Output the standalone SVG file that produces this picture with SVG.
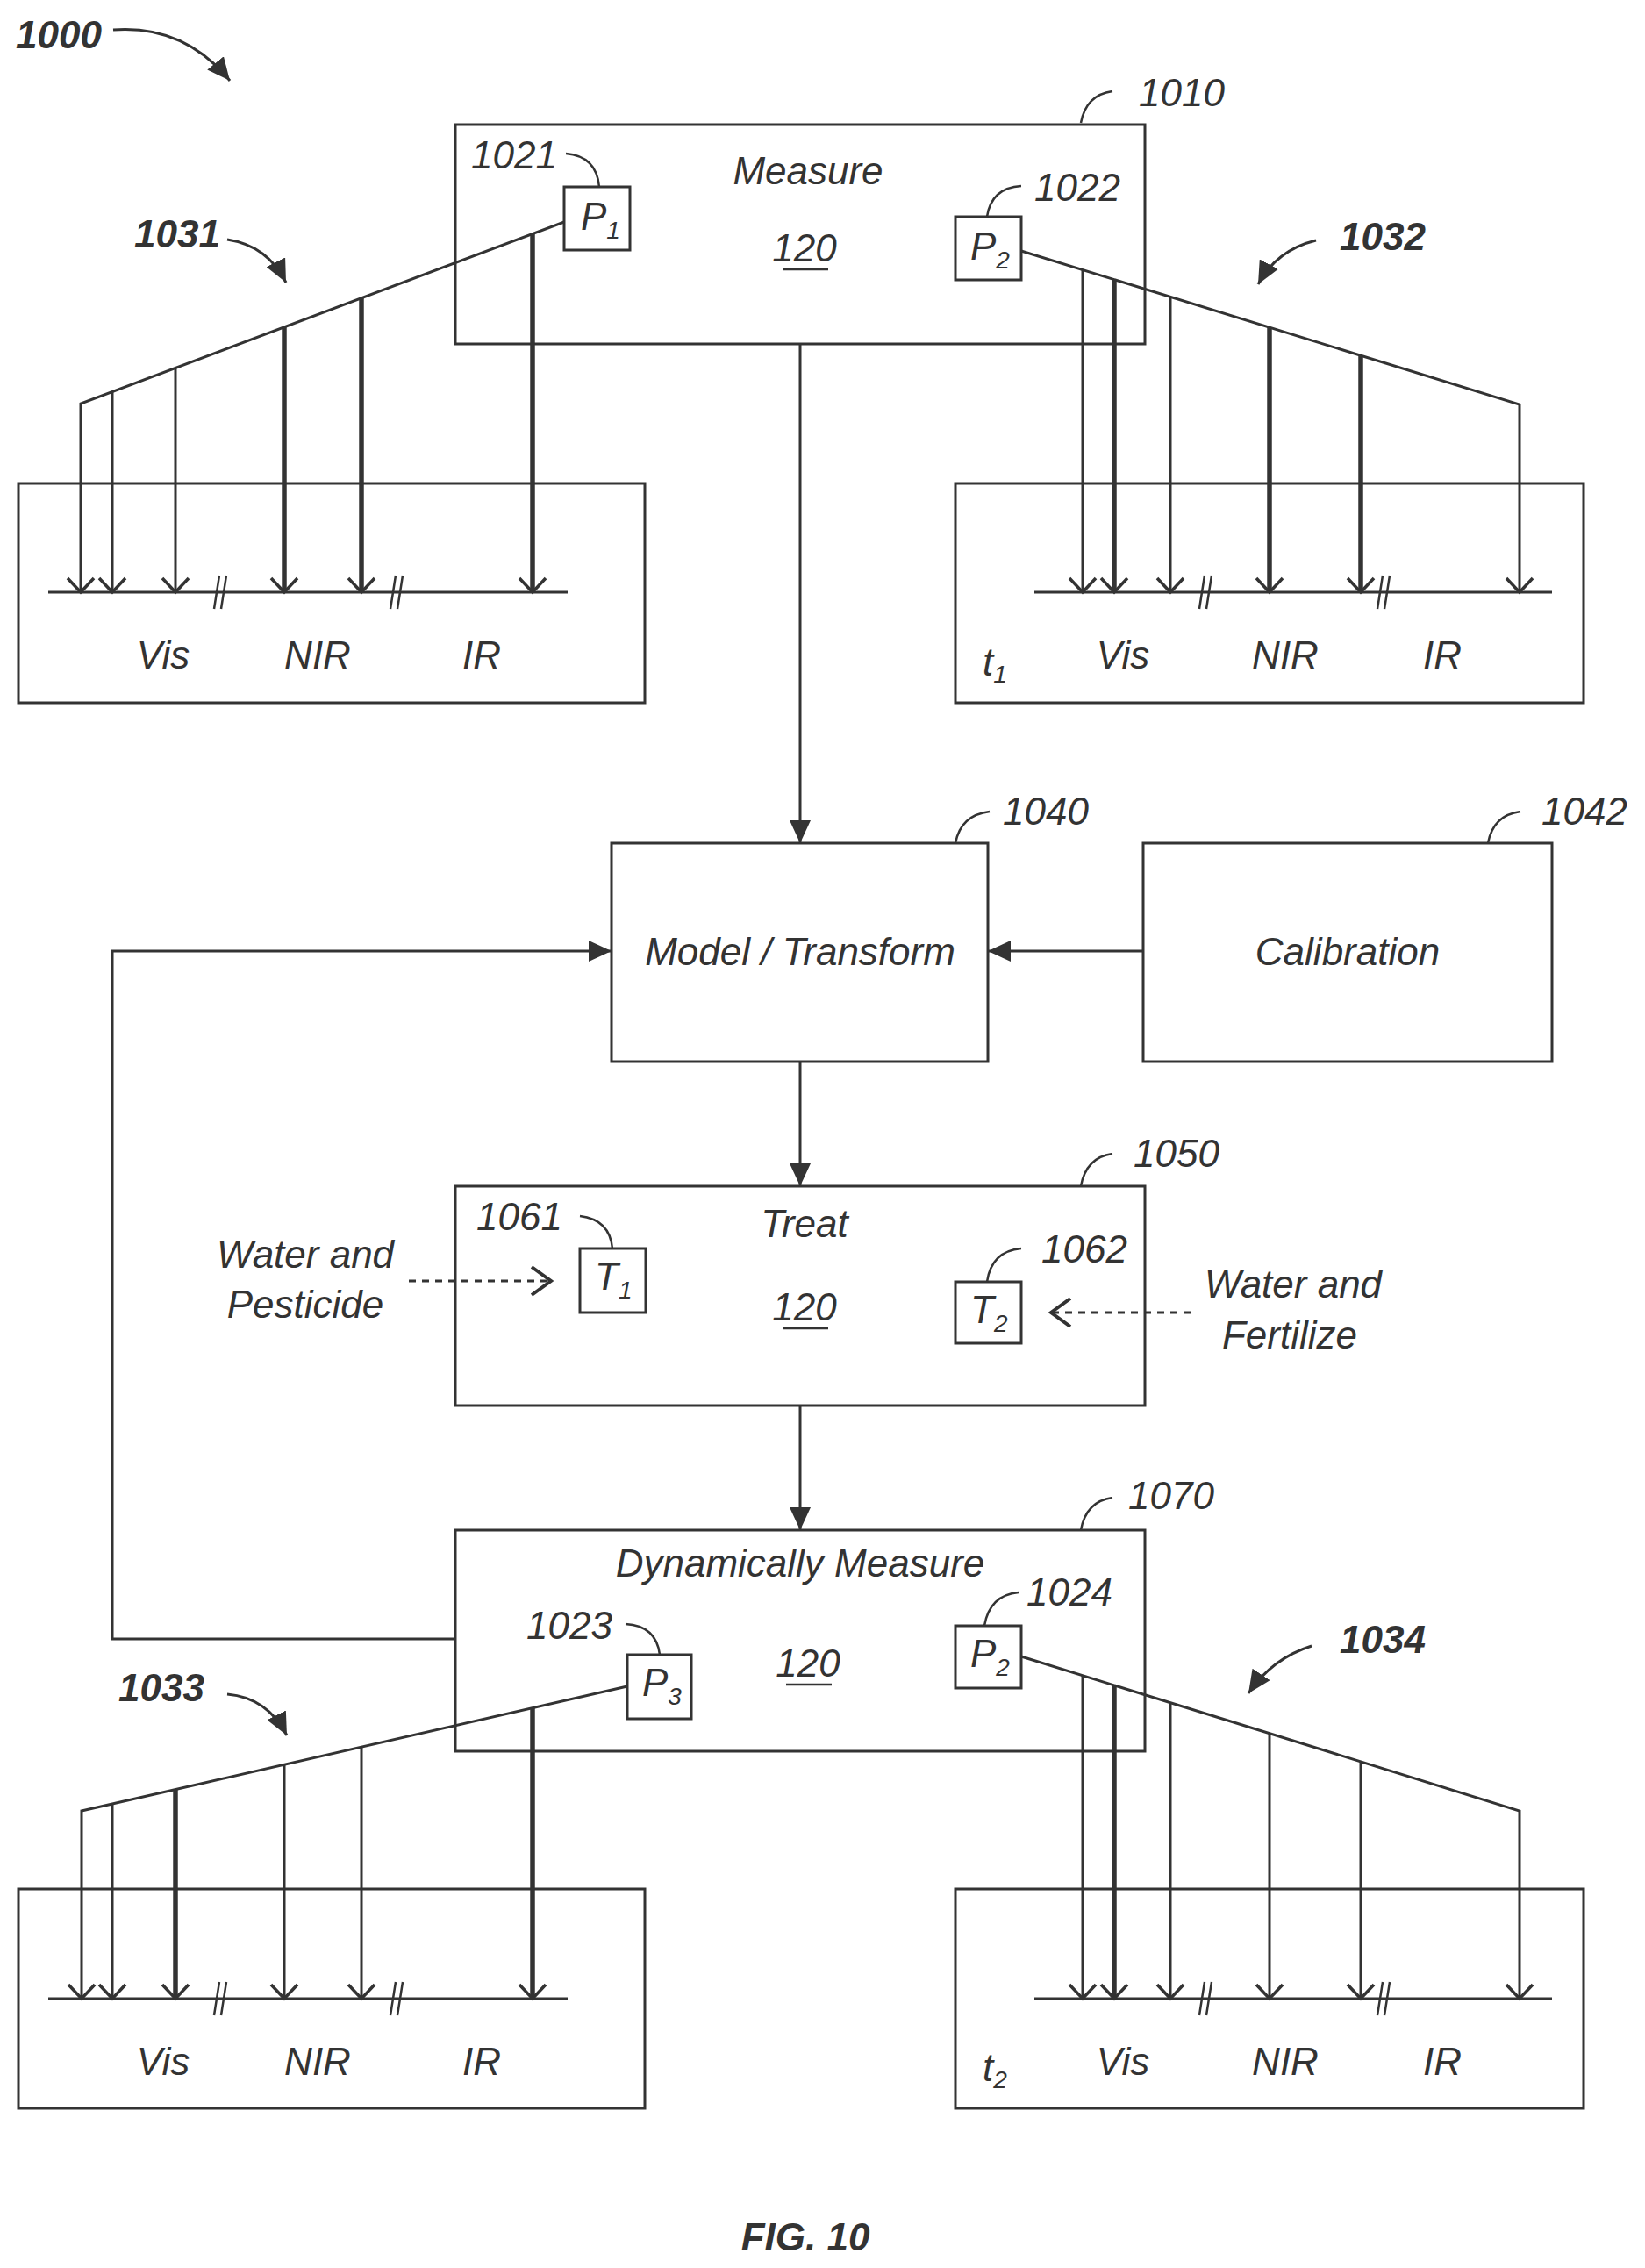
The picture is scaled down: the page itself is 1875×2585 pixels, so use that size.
<svg xmlns="http://www.w3.org/2000/svg" width="1875" height="2585" viewBox="0 0 1875 2585">
<style>
text{font-family:"Liberation Sans",Arial,sans-serif;font-style:italic;fill:#333;font-size:44px}
.b{font-weight:bold}
.m{text-anchor:middle}
.box{fill:none;stroke:#333;stroke-width:3}
.ln{fill:none;stroke:#333;stroke-width:3}
.tk{fill:none;stroke:#333;stroke-width:5.5}
.ld{fill:none;stroke:#333;stroke-width:2.5}
.ds{fill:none;stroke:#333;stroke-width:3;stroke-dasharray:8 7}
</style>
<defs>
<marker id="fa" markerUnits="userSpaceOnUse" markerWidth="30" markerHeight="24" refX="26" refY="12" orient="auto"><path d="M0,0 L26,12 L0,24 Z" fill="#333"/></marker>
<marker id="ca" markerUnits="userSpaceOnUse" markerWidth="30" markerHeight="40" refX="28" refY="20" orient="auto"><path d="M4,4 L26,20 L4,36" fill="none" stroke="#333" stroke-width="4"/></marker>
<marker id="va" markerUnits="userSpaceOnUse" markerWidth="26" markerHeight="36" refX="22" refY="18" orient="auto"><path d="M6,3 L22,18 L6,33" fill="none" stroke="#333" stroke-width="3.5"/></marker>
</defs>

<g id="title">
<text class="b" x="18" y="55">1000</text>
<path class="ln" d="M129,34 Q210,28 262,92" marker-end="url(#fa)"/>
</g>

<g id="n1010">
<rect class="box" x="519" y="142" width="786" height="250"/>
<text class="m" x="921" y="210">Measure</text>
<text class="m" x="917" y="298">120</text>
<line class="ld" x1="892" y1="307" x2="944" y2="307"/>
<text x="1298" y="121">1010</text>
<path class="ld" d="M1232,140 Q1238,108 1268,104"/>
<rect class="box" x="643" y="213" width="75" height="72"/>
<text x="662" y="262">P<tspan font-size="28" dy="10">1</tspan></text>
<text x="537" y="192">1021</text>
<path class="ld" d="M645,175 Q680,178 683,213"/>
<rect class="box" x="1089" y="247" width="75" height="72"/>
<text x="1106" y="296">P<tspan font-size="28" dy="10">2</tspan></text>
<text x="1179" y="229">1022</text>
<path class="ld" d="M1125,247 Q1130,214 1164,212"/>
</g>

<g id="n1031">
<rect class="box" x="21" y="551" width="714" height="250"/>
<text class="b" x="153" y="282">1031</text>
<path class="ln" d="M259,273 Q305,280 326,322" marker-end="url(#fa)"/>
<line class="ln" x1="55" y1="675" x2="647" y2="675"/>
<path class="ld" d="M244,694 L250,656 M252,694 L258,656 M445,694 L451,656 M453,694 L459,656"/>
<text class="m" x="186" y="762">Vis</text>
<text class="m" x="362" y="762">NIR</text>
<text class="m" x="549" y="762">IR</text>
</g>

<g id="n1032">
<rect class="box" x="1089" y="551" width="716" height="250"/>
<text class="b" x="1527" y="285">1032</text>
<path class="ln" d="M1500,274 Q1455,285 1434,324" marker-end="url(#fa)"/>
<line class="ln" x1="1179" y1="675" x2="1769" y2="675"/>
<path class="ld" d="M1367,694 L1373,656 M1375,694 L1381,656 M1570,694 L1576,656 M1578,694 L1584,656"/>
<text x="1120" y="770">t<tspan font-size="28" dy="8">1</tspan></text>
<text class="m" x="1280" y="762">Vis</text>
<text class="m" x="1465" y="762">NIR</text>
<text class="m" x="1644" y="762">IR</text>
</g>

<g id="n1040">
<rect class="box" x="697" y="961" width="429" height="249"/>
<text class="m" x="912" y="1100">Model / Transform</text>
<text x="1143" y="940">1040</text>
<path class="ld" d="M1089,961 Q1095,929 1128,925"/>
</g>

<g id="n1042">
<rect class="box" x="1303" y="961" width="466" height="249"/>
<text class="m" x="1536" y="1100">Calibration</text>
<text x="1757" y="940">1042</text>
<path class="ld" d="M1696,961 Q1702,929 1733,925"/>
</g>

<g id="n1050">
<rect class="box" x="519" y="1352" width="786" height="250"/>
<text class="m" x="917" y="1410">Treat</text>
<text class="m" x="917" y="1505">120</text>
<line class="ld" x1="892" y1="1514" x2="944" y2="1514"/>
<text x="1292" y="1330">1050</text>
<path class="ld" d="M1232,1352 Q1238,1319 1268,1315"/>
<rect class="box" x="661" y="1423" width="75" height="73"/>
<text x="678" y="1470">T<tspan font-size="28" dy="10">1</tspan></text>
<text x="543" y="1402">1061</text>
<path class="ld" d="M661,1386 Q695,1390 698,1423"/>
<rect class="box" x="1089" y="1461" width="75" height="70"/>
<text x="1106" y="1508">T<tspan font-size="28" dy="10">2</tspan></text>
<text x="1187" y="1439">1062</text>
<path class="ld" d="M1125,1461 Q1130,1426 1164,1423"/>
<text class="m" x="348" y="1445">Water and</text>
<text class="m" x="348" y="1502">Pesticide</text>
<text class="m" x="1474" y="1479">Water and</text>
<text class="m" x="1470" y="1537">Fertilize</text>
</g>

<g id="n1070">
<rect class="box" x="519" y="1744" width="786" height="252"/>
<text class="m" x="912" y="1797">Dynamically Measure</text>
<text class="m" x="921" y="1911">120</text>
<line class="ld" x1="896" y1="1920" x2="948" y2="1920"/>
<text x="1286" y="1720">1070</text>
<path class="ld" d="M1232,1744 Q1238,1711 1268,1707"/>
<rect class="box" x="715" y="1886" width="73" height="73"/>
<text x="732" y="1933">P<tspan font-size="28" dy="10">3</tspan></text>
<text x="600" y="1868">1023</text>
<path class="ld" d="M713,1851 Q748,1853 752,1886"/>
<rect class="box" x="1089" y="1853" width="75" height="71"/>
<text x="1106" y="1900">P<tspan font-size="28" dy="10">2</tspan></text>
<text x="1170" y="1830">1024</text>
<path class="ld" d="M1122,1853 Q1128,1818 1161,1815"/>
</g>

<g id="n1033">
<rect class="box" x="21" y="2153" width="714" height="250"/>
<text class="b" x="135" y="1939">1033</text>
<path class="ln" d="M259,1931 Q305,1935 327,1978" marker-end="url(#fa)"/>
<line class="ln" x1="55" y1="2278" x2="647" y2="2278"/>
<path class="ld" d="M244,2297 L250,2259 M252,2297 L258,2259 M445,2297 L451,2259 M453,2297 L459,2259"/>
<text class="m" x="186" y="2365">Vis</text>
<text class="m" x="362" y="2365">NIR</text>
<text class="m" x="549" y="2365">IR</text>
</g>

<g id="n1034">
<rect class="box" x="1089" y="2153" width="716" height="250"/>
<text class="b" x="1527" y="1884">1034</text>
<path class="ln" d="M1495,1876 Q1450,1890 1423,1930" marker-end="url(#fa)"/>
<line class="ln" x1="1179" y1="2278" x2="1769" y2="2278"/>
<path class="ld" d="M1367,2297 L1373,2259 M1375,2297 L1381,2259 M1570,2297 L1576,2259 M1578,2297 L1584,2259"/>
<text x="1120" y="2372">t<tspan font-size="28" dy="8">2</tspan></text>
<text class="m" x="1280" y="2365">Vis</text>
<text class="m" x="1465" y="2365">NIR</text>
<text class="m" x="1644" y="2365">IR</text>
</g>

<g id="connectors">
<line class="ln" x1="912" y1="392" x2="912" y2="961" marker-end="url(#fa)"/>
<line class="ln" x1="1303" y1="1084" x2="1126" y2="1084" marker-end="url(#fa)"/>
<line class="ln" x1="912" y1="1210" x2="912" y2="1352" marker-end="url(#fa)"/>
<line class="ln" x1="912" y1="1602" x2="912" y2="1744" marker-end="url(#fa)"/>
<polyline class="ln" points="519,1868 128,1868 128,1084 697,1084" marker-end="url(#fa)"/>
<line class="ds" x1="466" y1="1460" x2="630" y2="1460" marker-end="url(#ca)"/>
<line class="ds" x1="1357" y1="1496" x2="1196" y2="1496" marker-end="url(#ca)"/>
<!-- fan 1031 -->
<polyline class="ln" points="643,253 92,460 92,675" marker-end="url(#va)"/>
<line class="ln" x1="128" y1="446" x2="128" y2="675" marker-end="url(#va)"/>
<line class="ln" x1="200" y1="419" x2="200" y2="675" marker-end="url(#va)"/>
<line class="tk" x1="324" y1="373" x2="324" y2="675" marker-end="url(#va)"/>
<line class="tk" x1="412" y1="340" x2="412" y2="675" marker-end="url(#va)"/>
<line class="tk" x1="607" y1="267" x2="607" y2="675" marker-end="url(#va)"/>
<!-- fan 1032 -->
<polyline class="ln" points="1164,286 1732,461 1732,675" marker-end="url(#va)"/>
<line class="ln" x1="1234" y1="308" x2="1234" y2="675" marker-end="url(#va)"/>
<line class="tk" x1="1270" y1="319" x2="1270" y2="675" marker-end="url(#va)"/>
<line class="ln" x1="1334" y1="338" x2="1334" y2="675" marker-end="url(#va)"/>
<line class="tk" x1="1447" y1="373" x2="1447" y2="675" marker-end="url(#va)"/>
<line class="tk" x1="1551" y1="405" x2="1551" y2="675" marker-end="url(#va)"/>
<!-- fan 1033 -->
<polyline class="ln" points="715,1922 93,2064 93,2278" marker-end="url(#va)"/>
<line class="ln" x1="128" y1="2056" x2="128" y2="2278" marker-end="url(#va)"/>
<line class="tk" x1="200" y1="2040" x2="200" y2="2278" marker-end="url(#va)"/>
<line class="ln" x1="324" y1="2011" x2="324" y2="2278" marker-end="url(#va)"/>
<line class="ln" x1="412" y1="1991" x2="412" y2="2278" marker-end="url(#va)"/>
<line class="tk" x1="607" y1="1947" x2="607" y2="2278" marker-end="url(#va)"/>
<!-- fan 1034 -->
<polyline class="ln" points="1164,1888 1732,2064 1732,2278" marker-end="url(#va)"/>
<line class="ln" x1="1234" y1="1910" x2="1234" y2="2278" marker-end="url(#va)"/>
<line class="tk" x1="1270" y1="1921" x2="1270" y2="2278" marker-end="url(#va)"/>
<line class="ln" x1="1334" y1="1941" x2="1334" y2="2278" marker-end="url(#va)"/>
<line class="ln" x1="1447" y1="1976" x2="1447" y2="2278" marker-end="url(#va)"/>
<line class="ln" x1="1551" y1="2008" x2="1551" y2="2278" marker-end="url(#va)"/>
</g>

<text class="b m" x="918" y="2565" font-size="60">FIG. 10</text>
</svg>
